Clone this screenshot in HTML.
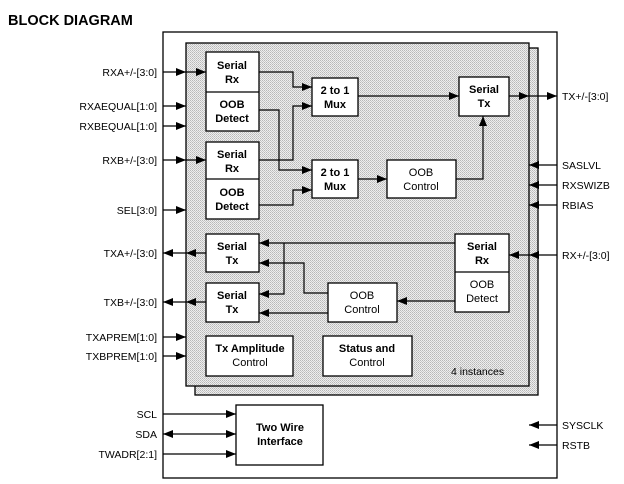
<!DOCTYPE html>
<html><head><meta charset="utf-8"><style>
html,body{margin:0;padding:0;background:#fff;}
svg{display:block;font-family:"Liberation Sans",Arial,sans-serif;}
.b{font-weight:bold;font-size:11px;}
.s{font-size:10.5px;}
</style></head><body>
<svg width="624" height="484" viewBox="0 0 624 484" xmlns="http://www.w3.org/2000/svg">
<defs>
<pattern id="h" width="2" height="2" patternUnits="userSpaceOnUse">
<rect width="2" height="2" fill="#eeeeee"/><rect width="1" height="1" fill="#b8b8b8"/><rect x="1" y="1" width="1" height="1" fill="#c8c8c8"/>
</pattern>
<marker id="a" markerWidth="10" markerHeight="8" refX="10" refY="4" orient="auto" markerUnits="userSpaceOnUse">
<path d="M0,0 L10,4 L0,8 z" fill="#000"/></marker>
<marker id="as" markerWidth="10" markerHeight="8" refX="0" refY="4" orient="auto" markerUnits="userSpaceOnUse">
<path d="M10,0 L0,4 L10,8 z" fill="#000"/></marker>
</defs>
<text x="8" y="25" font-weight="bold" font-size="14.5">BLOCK DIAGRAM</text>
<rect x="163" y="32" width="394" height="446" fill="#fff" stroke="#000" stroke-width="1.3"/>
<rect x="195" y="48" width="343" height="347" fill="url(#h)" stroke="#000" stroke-width="1.3"/>
<rect x="186" y="43" width="343" height="343" fill="url(#h)" stroke="#000" stroke-width="1.3"/>

<g fill="#fff" stroke="#000" stroke-width="1.3">
<rect x="206" y="52" width="53" height="79"/><line x1="206" y1="92" x2="259" y2="92"/>
<rect x="206" y="142" width="53" height="77"/><line x1="206" y1="179" x2="259" y2="179"/>
<rect x="312" y="78" width="46" height="38"/>
<rect x="312" y="160" width="46" height="38"/>
<rect x="459" y="77" width="50" height="39"/>
<rect x="387" y="160" width="69" height="38"/>
<rect x="206" y="234" width="53" height="38"/>
<rect x="206" y="283" width="53" height="39"/>
<rect x="328" y="283" width="69" height="39"/>
<rect x="455" y="234" width="54" height="78"/><line x1="455" y1="272" x2="509" y2="272"/>
<rect x="206" y="336" width="87" height="40"/>
<rect x="323" y="336" width="89" height="40"/>
<rect x="236" y="405" width="87" height="60"/>
</g>
<g class="b" text-anchor="middle">
<text x="232" y="69">Serial</text><text x="232" y="83">Rx</text>
<text x="232" y="108">OOB</text><text x="232" y="122">Detect</text>
<text x="232" y="158">Serial</text><text x="232" y="172">Rx</text>
<text x="232" y="196">OOB</text><text x="232" y="210">Detect</text>
<text x="335" y="94">2 to 1</text><text x="335" y="108">Mux</text>
<text x="335" y="176">2 to 1</text><text x="335" y="190">Mux</text>
<text x="484" y="93">Serial</text><text x="484" y="107">Tx</text>
<text x="421" y="176" font-weight="normal">OOB</text><text x="421" y="190" font-weight="normal">Control</text>
<text x="232" y="250">Serial</text><text x="232" y="264">Tx</text>
<text x="232" y="299">Serial</text><text x="232" y="313">Tx</text>
<text x="362" y="299" font-weight="normal">OOB</text><text x="362" y="313" font-weight="normal">Control</text>
<text x="482" y="250">Serial</text><text x="482" y="264">Rx</text>
<text x="482" y="288" font-weight="normal">OOB</text><text x="482" y="302" font-weight="normal">Detect</text>
<text x="250" y="352">Tx Amplitude</text><text x="250" y="366" font-weight="normal">Control</text>
<text x="367" y="352">Status and</text><text x="367" y="366" font-weight="normal">Control</text>
<text x="280" y="431">Two Wire</text><text x="280" y="445">Interface</text>
</g>
<text x="451" y="375" class="s">4 instances</text>

<g stroke="#000" stroke-width="1.2" fill="none">
<!-- top internal -->
<polyline points="259,72 293,72 293,87 312,87" marker-end="url(#a)"/>
<polyline points="259,110 279,110 279,170 312,170" marker-end="url(#a)"/>
<polyline points="259,160 293,160 293,106 312,106" marker-end="url(#a)"/>
<polyline points="259,205 293,205 293,190 312,190" marker-end="url(#a)"/>
<line x1="358" y1="96" x2="459" y2="96" marker-end="url(#a)"/>
<line x1="358" y1="179" x2="387" y2="179" marker-end="url(#a)"/>
<polyline points="456,179 483,179 483,116" marker-end="url(#a)"/>
<!-- bottom internal -->
<line x1="455" y1="243" x2="259" y2="243" marker-end="url(#a)"/>
<polyline points="284,243 284,294 259,294" marker-end="url(#a)"/>
<polyline points="328,293 304,293 304,263 259,263" marker-end="url(#a)"/>
<line x1="328" y1="313" x2="259" y2="313" marker-end="url(#a)"/>
<line x1="455" y1="301" x2="397" y2="301" marker-end="url(#a)"/>
<!-- left inputs -->
<line x1="163" y1="72" x2="186" y2="72" marker-end="url(#a)"/>
<line x1="186" y1="72" x2="206" y2="72" marker-end="url(#a)"/>
<line x1="163" y1="160" x2="186" y2="160" marker-end="url(#a)"/>
<line x1="186" y1="160" x2="206" y2="160" marker-end="url(#a)"/>
<line x1="163" y1="106" x2="186" y2="106" marker-end="url(#a)"/>
<line x1="163" y1="126" x2="186" y2="126" marker-end="url(#a)"/>
<line x1="163" y1="210" x2="186" y2="210" marker-end="url(#a)"/>
<line x1="163" y1="337" x2="186" y2="337" marker-end="url(#a)"/>
<line x1="163" y1="356" x2="186" y2="356" marker-end="url(#a)"/>
<!-- left outputs -->
<line x1="206" y1="253" x2="186" y2="253" marker-end="url(#a)"/>
<line x1="186" y1="253" x2="163" y2="253" marker-end="url(#a)"/>
<line x1="206" y1="302" x2="186" y2="302" marker-end="url(#a)"/>
<line x1="186" y1="302" x2="163" y2="302" marker-end="url(#a)"/>
<!-- two wire -->
<line x1="163" y1="414" x2="236" y2="414" marker-end="url(#a)"/>
<line x1="163" y1="434" x2="236" y2="434" marker-end="url(#a)" marker-start="url(#as)"/>
<line x1="163" y1="454" x2="236" y2="454" marker-end="url(#a)"/>
<!-- right -->
<line x1="509" y1="96" x2="529" y2="96" marker-end="url(#a)"/>
<line x1="529" y1="96" x2="557" y2="96" marker-end="url(#a)"/>
<line x1="557" y1="165" x2="529" y2="165" marker-end="url(#a)"/>
<line x1="557" y1="185" x2="529" y2="185" marker-end="url(#a)"/>
<line x1="557" y1="205" x2="529" y2="205" marker-end="url(#a)"/>
<line x1="557" y1="255" x2="529" y2="255" marker-end="url(#a)"/>
<line x1="529" y1="255" x2="509" y2="255" marker-end="url(#a)"/>
<line x1="557" y1="425" x2="529" y2="425" marker-end="url(#a)"/>
<line x1="557" y1="445" x2="529" y2="445" marker-end="url(#a)"/>
</g>
<g class="s" text-anchor="end">
<text x="157" y="76">RXA+/-[3:0]</text>
<text x="157" y="110">RXAEQUAL[1:0]</text>
<text x="157" y="130">RXBEQUAL[1:0]</text>
<text x="157" y="164">RXB+/-[3:0]</text>
<text x="157" y="214">SEL[3:0]</text>
<text x="157" y="257">TXA+/-[3:0]</text>
<text x="157" y="306">TXB+/-[3:0]</text>
<text x="157" y="341">TXAPREM[1:0]</text>
<text x="157" y="360">TXBPREM[1:0]</text>
<text x="157" y="418">SCL</text>
<text x="157" y="438">SDA</text>
<text x="157" y="458">TWADR[2:1]</text>
</g>
<g class="s">
<text x="562" y="100">TX+/-[3:0]</text>
<text x="562" y="169">SASLVL</text>
<text x="562" y="189">RXSWIZB</text>
<text x="562" y="209">RBIAS</text>
<text x="562" y="259">RX+/-[3:0]</text>
<text x="562" y="429">SYSCLK</text>
<text x="562" y="449">RSTB</text>
</g>
</svg>
</body></html>
